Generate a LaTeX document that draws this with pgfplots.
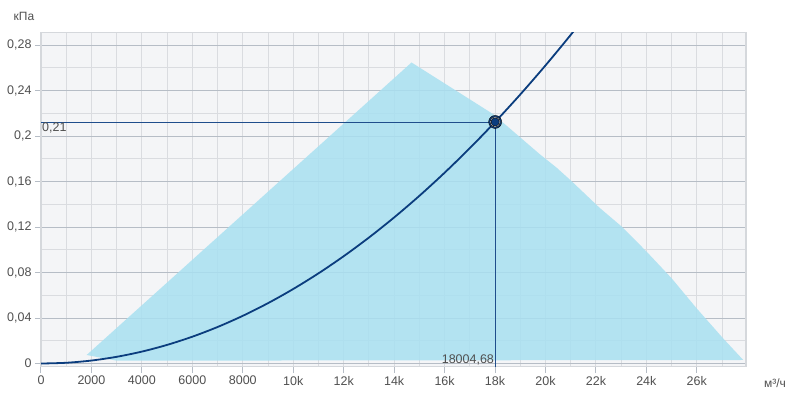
\documentclass[border=0pt]{standalone}
\usepackage{fontspec}
\setmainfont{Liberation Sans}
\usepackage{pgfplots}
\pgfplotsset{compat=1.18}
\definecolor{bgc}{HTML}{F4F5F7}
\definecolor{fillc}{RGB}{168,224,241}
\definecolor{curvec}{HTML}{0B3D7E}
\definecolor{opc}{HTML}{1F4E8C}
\definecolor{majgrid}{HTML}{B6BDC6}
\definecolor{mingrid}{HTML}{DADCE0}
\definecolor{framec}{HTML}{D5D8DC}
\definecolor{txt}{HTML}{505050}
\begin{document}
\begin{tikzpicture}
\path[use as bounding box] (-41pt,-30.3pt) rectangle (751pt,366.7pt);
\begin{axis}[
 name=ax, at={(0,0)}, anchor=south west,
 scale only axis, width=705pt, height=334pt,
 xmin=0, xmax=27950, ymin=-0.0028, ymax=0.291,
 scaled x ticks=false, scaled y ticks=false,
 axis background/.style={fill=bgc},
 axis line style={framec, line width=1.5pt},
 xtick={0,2000,4000,6000,8000,10000,12000,14000,16000,18000,20000,22000,24000,26000},
 xticklabels={0,2000,4000,6000,8000,10k,12k,14k,16k,18k,20k,22k,24k,26k},
 ytick={0,0.04,0.08,0.12,0.16,0.2,0.24,0.28},
 yticklabels={0,{0,04},{0,08},{0,12},{0,16},{0,2},{0,24},{0,28}},
 minor xtick={1000,3000,5000,7000,9000,11000,13000,15000,17000,19000,21000,23000,25000,27000},
 minor ytick={0.02,0.06,0.10,0.14,0.18,0.22,0.26},
 grid=both,
 major x grid style={mingrid, line width=1pt},
 minor x grid style={mingrid, line width=1pt},
 major y grid style={majgrid, line width=1pt},
 minor y grid style={mingrid, line width=1pt},
 tick align=outside,
 xtick pos=bottom, ytick pos=left,
 major tick length=6pt, minor tick length=0pt,
 major tick style={majgrid, line width=1pt},
 ticklabel style={font=\fontsize{12.5}{14}\selectfont, text=txt},
 clip=true,
]
\addplot[draw=none, fill=fillc, fill opacity=0.85] coordinates {
 (1810,0.0075) (14690,0.2648) (17930,0.2193) (19780,0.184) (20440,0.1723)
 (21030,0.1605) (22160,0.1367) (23020,0.1205) (24010,0.0984) (25000,0.0750)
 (25990,0.0486) (27040,0.0222) (27840,0.0031) (3000,0.0025) (1810,0.0075)};
\addplot[curvec, line width=1.8pt, smooth] coordinates {
 (0,0) (1000,0.000656) (2000,0.002622) (3000,0.0059) (4000,0.010488)
 (5000,0.016388) (6000,0.023599) (7000,0.032120) (8000,0.041953)
 (9000,0.053097) (10000,0.065552) (11000,0.079318) (12000,0.094395)
 (13000,0.110783) (14000,0.128482) (15000,0.147492) (16000,0.167813)
 (17000,0.189445) (18000,0.212388) (19000,0.236643) (20000,0.262208)
 (21000,0.289084) (22000,0.317271)};
\addplot[opc, line width=0.8pt] coordinates {(0,0.2125) (18004.68,0.2125)};
\addplot[opc, line width=0.8pt] coordinates {(18004.68,0.2125) (18004.68,-0.0028)};
\addplot[only marks, mark=*, mark size=6.5pt, mark options={fill=curvec, draw=none}] coordinates {(18004.68,0.2125)};
\addplot[only marks, mark=*, mark size=5.2pt, mark options={fill=white, draw=none}] coordinates {(18004.68,0.2125)};
\addplot[only marks, mark=*, mark size=4.2pt, mark options={fill=curvec, draw=none}] coordinates {(18004.68,0.2125)};
\node[anchor=north west, inner sep=1pt, text=txt, font=\fontsize{12.5}{14}\selectfont] at (axis cs:0,0.2125) {0,21};
\node[anchor=south east, inner sep=1pt, text=txt, font=\fontsize{12.5}{14}\selectfont] at (axis cs:18004.68,-0.0028) {18004,68};
\end{axis}
\node[text=txt, font=\fontsize{12}{14}\selectfont] at (-17pt,350.7pt) {кПа};
\node[text=txt, font=\fontsize{12}{14}\selectfont] at (734pt,-16.3pt) {м³/ч};
\end{tikzpicture}
\end{document}
